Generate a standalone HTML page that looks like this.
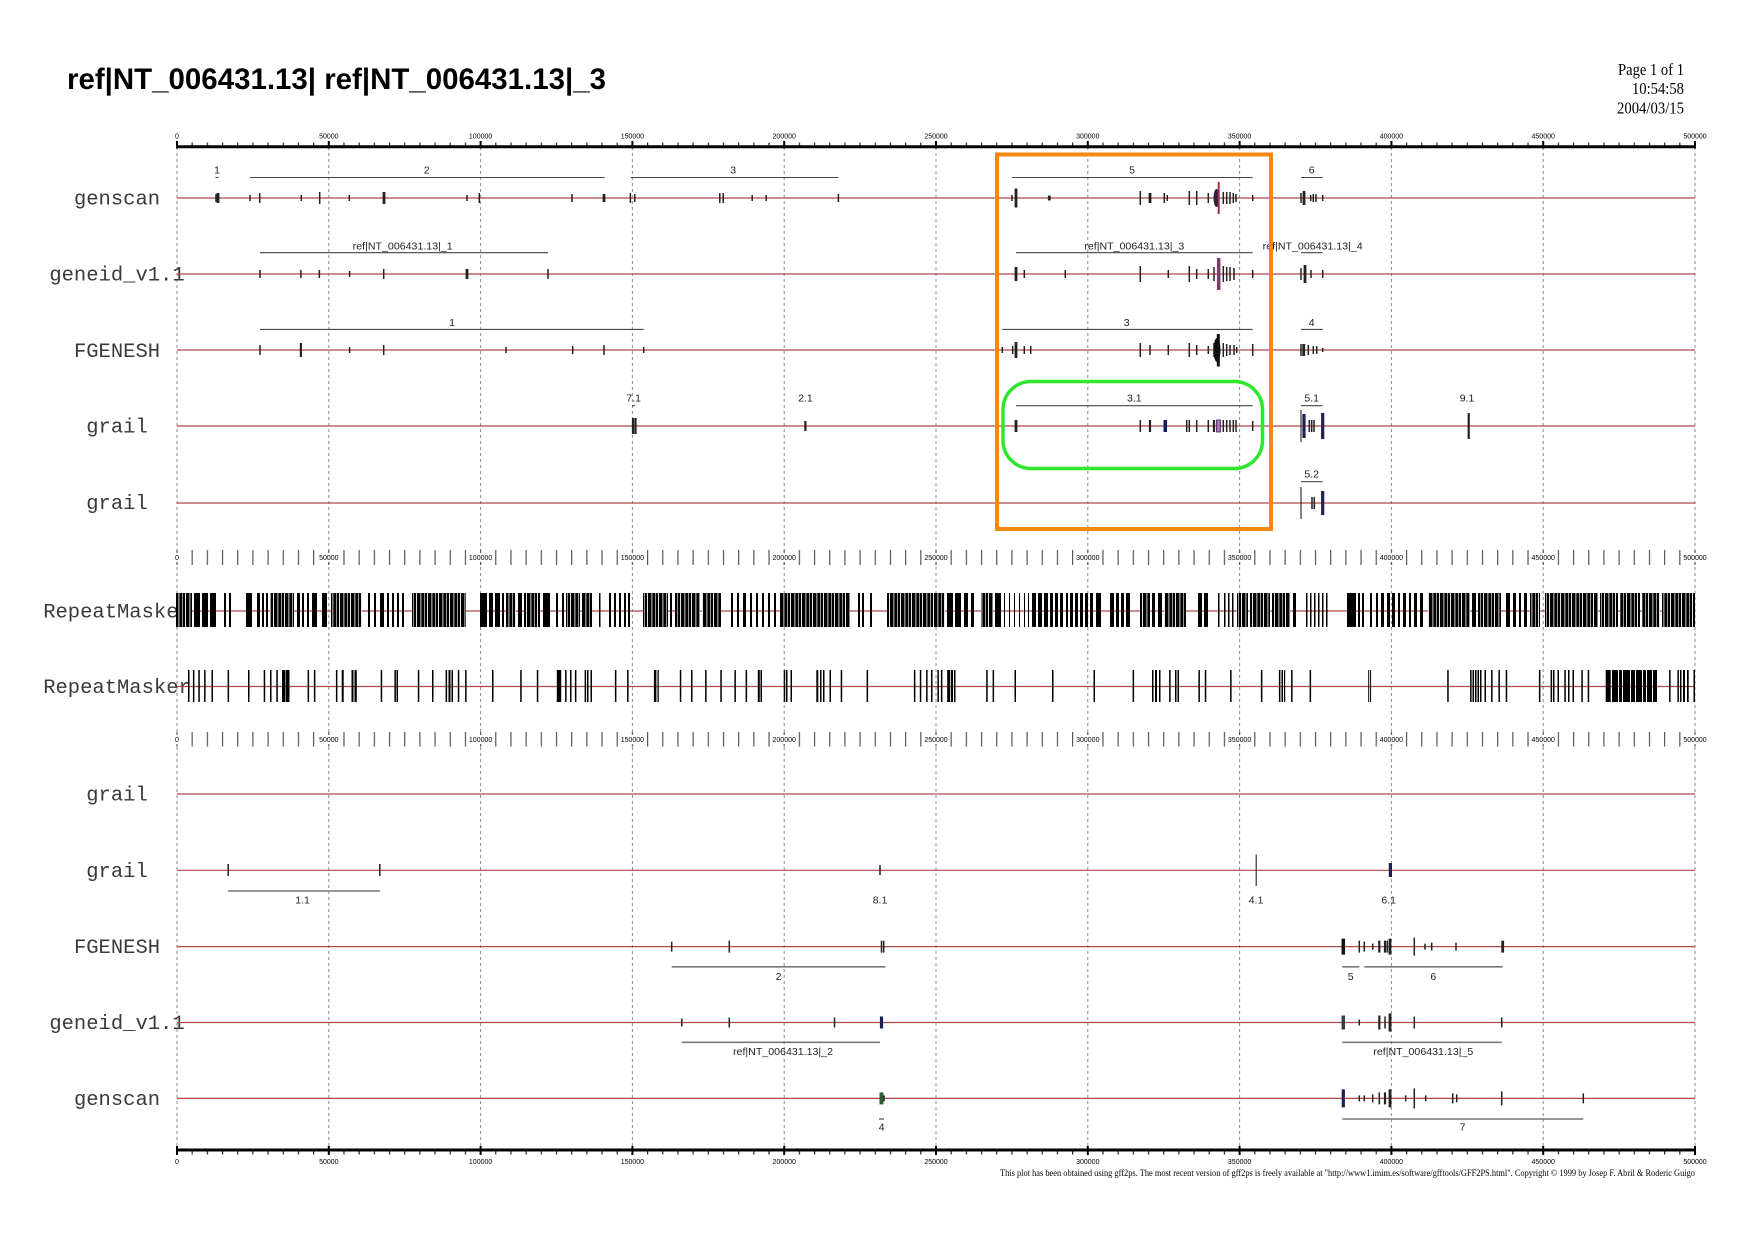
<!DOCTYPE html>
<html><head><meta charset="utf-8"><style>html,body{margin:0;padding:0;background:#fff}svg{display:block}</style></head><body>
<svg xmlns="http://www.w3.org/2000/svg" width="1754" height="1240" viewBox="0 0 1754 1240">
<defs>
<pattern id="tk" x="176.4" y="0" width="15.18" height="1240" patternUnits="userSpaceOnUse"><rect x="0" y="0" width="1.2" height="1240" fill="#222"/></pattern>
<pattern id="rt" x="176.4" y="0" width="15.18" height="1240" patternUnits="userSpaceOnUse"><rect x="0" y="0" width="1.2" height="1240" fill="#555"/></pattern>
<pattern id="rmp" x="0" y="0" width="11" height="1240" patternUnits="userSpaceOnUse"><rect x="0" y="0" width="11" height="1240" fill="#000"/><rect x="2.5" y="0" width="0.8" height="1240" fill="#fff"/><rect x="6" y="0" width="0.6" height="1240" fill="#fff"/><rect x="9" y="0" width="0.9" height="1240" fill="#fff"/></pattern>
</defs>
<rect width="1754" height="1240" fill="#fff"/>

<!-- title & page info -->
<text x="67" y="89" font-family="Liberation Sans, Arial, sans-serif" font-weight="bold" font-size="30" textLength="539" lengthAdjust="spacingAndGlyphs" fill="#000">ref|NT_006431.13| ref|NT_006431.13|_3</text>
<g font-family="Liberation Serif, serif" font-size="17" fill="#000" text-anchor="end">
<text x="1684" y="75" textLength="66" lengthAdjust="spacingAndGlyphs">Page 1 of 1</text>
<text x="1684" y="94" textLength="52" lengthAdjust="spacingAndGlyphs">10:54:58</text>
<text x="1684" y="113.5" textLength="67" lengthAdjust="spacingAndGlyphs">2004/03/15</text>
</g>

<!-- dashed verticals -->
<g stroke="#8a8a8a" stroke-width="1" stroke-dasharray="3,3">
<line x1="177" y1="147" x2="177" y2="1150"/><line x1="328.8" y1="147" x2="328.8" y2="1150"/><line x1="480.6" y1="147" x2="480.6" y2="1150"/><line x1="632.4" y1="147" x2="632.4" y2="1150"/><line x1="784.2" y1="147" x2="784.2" y2="1150"/><line x1="936" y1="147" x2="936" y2="1150"/><line x1="1087.8" y1="147" x2="1087.8" y2="1150"/><line x1="1239.6" y1="147" x2="1239.6" y2="1150"/><line x1="1391.4" y1="147" x2="1391.4" y2="1150"/><line x1="1543.2" y1="147" x2="1543.2" y2="1150"/><line x1="1695" y1="147" x2="1695" y2="1150"/>
</g>

<!-- track labels -->
<g font-family="Liberation Mono, monospace" font-size="20.5" fill="#3a3a3a" text-anchor="middle">
<text x="117" y="204.5">genscan</text>
<text x="117" y="280.5">geneid_v1.1</text>
<text x="117" y="357">FGENESH</text>
<text x="117" y="432.5">grail</text>
<text x="117" y="509">grail</text>
<text x="117" y="617.5">RepeatMasker</text>
<text x="117" y="693">RepeatMasker</text>
<text x="117" y="800.5">grail</text>
<text x="117" y="877">grail</text>
<text x="117" y="953">FGENESH</text>
<text x="117" y="1029">geneid_v1.1</text>
<text x="117" y="1105">genscan</text>
</g>

<!-- track lines -->
<g stroke="#b04848" stroke-width="1.2">
<line x1="177" y1="198" x2="1695" y2="198"/><line x1="177" y1="274" x2="1695" y2="274"/><line x1="177" y1="350" x2="1695" y2="350"/><line x1="177" y1="426" x2="1695" y2="426"/><line x1="177" y1="503" x2="1695" y2="503"/><line x1="177" y1="611" x2="1695" y2="611"/><line x1="177" y1="686.5" x2="1695" y2="686.5"/><line x1="177" y1="794" x2="1695" y2="794"/><line x1="177" y1="870.3" x2="1695" y2="870.3"/><line x1="177" y1="946.6" x2="1695" y2="946.6"/><line x1="177" y1="1022.5" x2="1695" y2="1022.5"/><line x1="177" y1="1098.4" x2="1695" y2="1098.4"/>
</g>

<!-- top axis -->
<rect x="176" y="142.5" width="1520" height="4" fill="url(#tk)"/>
<line x1="176" y1="146.7" x2="1696" y2="146.7" stroke="#000" stroke-width="3"/>
<g stroke="#000" stroke-width="2">
<line x1="177" y1="141" x2="177" y2="148.5"/><line x1="328.8" y1="141" x2="328.8" y2="148.5"/><line x1="480.6" y1="141" x2="480.6" y2="148.5"/><line x1="632.4" y1="141" x2="632.4" y2="148.5"/><line x1="784.2" y1="141" x2="784.2" y2="148.5"/><line x1="936" y1="141" x2="936" y2="148.5"/><line x1="1087.8" y1="141" x2="1087.8" y2="148.5"/><line x1="1239.6" y1="141" x2="1239.6" y2="148.5"/><line x1="1391.4" y1="141" x2="1391.4" y2="148.5"/><line x1="1543.2" y1="141" x2="1543.2" y2="148.5"/><line x1="1695" y1="141" x2="1695" y2="148.5"/>
</g>
<g font-family="Liberation Sans, Arial, sans-serif" font-size="7" fill="#000" text-anchor="middle">
<text x="177" y="138.5">0</text><text x="328.8" y="138.5">50000</text><text x="480.6" y="138.5">100000</text><text x="632.4" y="138.5">150000</text><text x="784.2" y="138.5">200000</text><text x="936" y="138.5">250000</text><text x="1087.8" y="138.5">300000</text><text x="1239.6" y="138.5">350000</text><text x="1391.4" y="138.5">400000</text><text x="1543.2" y="138.5">450000</text><text x="1695" y="138.5">500000</text>
</g>

<!-- bottom axis -->
<rect x="176" y="1150" width="1520" height="4.5" fill="url(#tk)"/>
<line x1="176" y1="1150" x2="1696" y2="1150" stroke="#000" stroke-width="3"/>
<g stroke="#000" stroke-width="2">
<line x1="177" y1="1146" x2="177" y2="1155"/><line x1="328.8" y1="1146" x2="328.8" y2="1155"/><line x1="480.6" y1="1146" x2="480.6" y2="1155"/><line x1="632.4" y1="1146" x2="632.4" y2="1155"/><line x1="784.2" y1="1146" x2="784.2" y2="1155"/><line x1="936" y1="1146" x2="936" y2="1155"/><line x1="1087.8" y1="1146" x2="1087.8" y2="1155"/><line x1="1239.6" y1="1146" x2="1239.6" y2="1155"/><line x1="1391.4" y1="1146" x2="1391.4" y2="1155"/><line x1="1543.2" y1="1146" x2="1543.2" y2="1155"/><line x1="1695" y1="1146" x2="1695" y2="1155"/>
</g>
<g font-family="Liberation Sans, Arial, sans-serif" font-size="7" fill="#000" text-anchor="middle">
<text x="177" y="1164">0</text><text x="328.8" y="1164">50000</text><text x="480.6" y="1164">100000</text><text x="632.4" y="1164">150000</text><text x="784.2" y="1164">200000</text><text x="936" y="1164">250000</text><text x="1087.8" y="1164">300000</text><text x="1239.6" y="1164">350000</text><text x="1391.4" y="1164">400000</text><text x="1543.2" y="1164">450000</text><text x="1695" y="1164">500000</text>
</g>

<!-- rulers -->
<rect x="176" y="550" width="1520" height="15" fill="url(#rt)"/>
<rect x="176" y="732" width="1520" height="14.5" fill="url(#rt)"/>
<g fill="#fff">
<rect x="174" y="553" width="6" height="9"/><rect x="318" y="553" width="22" height="9"/><rect x="468" y="553" width="25" height="9"/><rect x="620" y="553" width="25" height="9"/><rect x="772" y="553" width="25" height="9"/><rect x="924" y="553" width="25" height="9"/><rect x="1075" y="553" width="25" height="9"/><rect x="1227" y="553" width="25" height="9"/><rect x="1379" y="553" width="25" height="9"/><rect x="1531" y="553" width="25" height="9"/><rect x="1683" y="553" width="25" height="9"/>
<rect x="174" y="735" width="6" height="9"/><rect x="318" y="735" width="22" height="9"/><rect x="468" y="735" width="25" height="9"/><rect x="620" y="735" width="25" height="9"/><rect x="772" y="735" width="25" height="9"/><rect x="924" y="735" width="25" height="9"/><rect x="1075" y="735" width="25" height="9"/><rect x="1227" y="735" width="25" height="9"/><rect x="1379" y="735" width="25" height="9"/><rect x="1531" y="735" width="25" height="9"/><rect x="1683" y="735" width="25" height="9"/>
</g>
<g font-family="Liberation Sans, Arial, sans-serif" font-size="7" fill="#000" text-anchor="middle">
<text x="177" y="560">0</text><text x="328.8" y="560">50000</text><text x="480.6" y="560">100000</text><text x="632.4" y="560">150000</text><text x="784.2" y="560">200000</text><text x="936" y="560">250000</text><text x="1087.8" y="560">300000</text><text x="1239.6" y="560">350000</text><text x="1391.4" y="560">400000</text><text x="1543.2" y="560">450000</text><text x="1695" y="560">500000</text>
<text x="177" y="742">0</text><text x="328.8" y="742">50000</text><text x="480.6" y="742">100000</text><text x="632.4" y="742">150000</text><text x="784.2" y="742">200000</text><text x="936" y="742">250000</text><text x="1087.8" y="742">300000</text><text x="1239.6" y="742">350000</text><text x="1391.4" y="742">400000</text><text x="1543.2" y="742">450000</text><text x="1695" y="742">500000</text>
</g>

<!-- RepeatMasker 1 -->
<g fill="#000">
<path d="M194 593h6v34h-6zM202 593h6v34h-6zM210 593h6v34h-6zM224 593h2v34h-2zM229 593h2v34h-2zM246 593h6v34h-6zM257 593h3v34h-3zM262 593h2v34h-2zM266 593h2v34h-2zM297 593h3v34h-3zM302 593h2v34h-2zM307 593h2v34h-2zM312 593h5v34h-5zM322 593h5v34h-5zM368 593h2v34h-2zM374 593h2v34h-2zM380 593h4v34h-4zM387 593h2v34h-2zM392 593h2v34h-2zM397 593h2v34h-2zM402 593h2v34h-2zM480 593h7v34h-7zM489 593h4v34h-4zM495 593h5v34h-5zM502 593h2v34h-2zM518 593h4v34h-4zM543 593h7v34h-7zM556 593h2v34h-2zM562 593h2v34h-2zM599 593h1.5v34h-1.5zM609 593h2v34h-2zM614 593h2v34h-2zM619 593h2v34h-2zM624 593h2v34h-2zM628 593h2v34h-2zM670 593h2v34h-2zM731 593h2v34h-2zM737 593h2v34h-2zM743 593h3v34h-3zM750 593h2v34h-2zM756 593h2v34h-2zM762 593h2v34h-2zM768 593h2v34h-2zM774 593h2v34h-2zM858 593h2v34h-2zM862 593h2v34h-2zM870 593h2v34h-2z"/>
<path d="M947 593h6v34h-6zM955 593h6v34h-6zM964 593h4v34h-4zM971 593h3v34h-3zM995 593h6v34h-6zM1004 593h1v34h-1zM1009 593h1v34h-1zM1014 593h1v34h-1zM1019 593h1v34h-1zM1024 593h1v34h-1zM1028 593h1v34h-1zM1032 593h4v34h-4zM1038 593h4v34h-4zM1044 593h4v34h-4zM1050 593h3v34h-3zM1055 593h3v34h-3zM1060 593h3v34h-3zM1066 593h2v34h-2zM1070 593h3v34h-3zM1075 593h3v34h-3zM1080 593h3v34h-3zM1085 593h3v34h-3zM1090 593h3v34h-3zM1096 593h5v34h-5zM1110 593h4v34h-4zM1116 593h3v34h-3zM1121 593h3v34h-3zM1126 593h4v34h-4zM1152 593h3v34h-3zM1158 593h4v34h-4zM1198 593h4v34h-4zM1204 593h4v34h-4zM1218 593h1.5v34h-1.5zM1224 593h1.5v34h-1.5zM1228 593h1.5v34h-1.5zM1232 593h1.5v34h-1.5zM1293 593h3v34h-3zM1306 593h1.5v34h-1.5zM1310 593h1.5v34h-1.5zM1314 593h1.5v34h-1.5zM1318 593h1.5v34h-1.5zM1322 593h1.5v34h-1.5zM1326 593h1.5v34h-1.5zM1347 593h9v34h-9zM1358 593h2v34h-2zM1362 593h2v34h-2zM1370 593h2v34h-2zM1376 593h2v34h-2zM1381 593h3v34h-3zM1387 593h3v34h-3zM1392 593h3v34h-3zM1398 593h2v34h-2zM1403 593h3v34h-3zM1409 593h2v34h-2zM1414 593h3v34h-3zM1420 593h3v34h-3zM1472 593h4v34h-4zM1506 593h4v34h-4zM1513 593h3v34h-3zM1519 593h2v34h-2zM1524 593h3v34h-3z"/>
</g>
<path fill="url(#rmp)" d="M176 593h16v34h-16zM270 593h24v34h-24zM331 593h31v34h-31zM412 593h54v34h-54zM506 593h10v34h-10zM524 593h16v34h-16zM566 593h14v34h-14zM582 593h10v34h-10zM643 593h25v34h-25zM675 593h25v34h-25zM702 593h19v34h-19zM780 593h70v34h-70zM887 593h48v34h-48zM935 593h10v34h-10zM981 593h12v34h-12zM1140 593h10v34h-10zM1164 593h22v34h-22zM1237 593h11v34h-11zM1250 593h20v34h-20zM1272 593h18v34h-18zM1428 593h42v34h-42zM1478 593h23v34h-23zM1530 593h10v34h-10zM1545 593h53v34h-53zM1600 593h18v34h-18zM1620 593h20v34h-20zM1642 593h18v34h-18zM1662 593h33v34h-33z"/>

<!-- RepeatMasker 2 -->
<g fill="#000">
<path d="M188 670h1.5v32h-1.5zM192.9 670h1.5v32h-1.5zM198.3 670h1.5v32h-1.5zM204.1 670h1.5v32h-1.5zM211.5 670h1.5v32h-1.5zM227.6 670h1.5v32h-1.5zM248 670h1.5v32h-1.5zM263.7 670h1.5v32h-1.5zM270 670h1.5v32h-1.5zM276.3 670h1.5v32h-1.5zM282 670h3v32h-3zM285.5 670h4v32h-4zM307.6 670h1.5v32h-1.5zM313.9 670h1.5v32h-1.5zM335.9 670h1.5v32h-1.5zM341.7 670h2v32h-2zM351.5 670h2v32h-2zM354.5 670h2.3v32h-2.3zM380.7 670h1.5v32h-1.5zM394.4 670h1.5v32h-1.5zM396.5 670h1.5v32h-1.5zM417.8 670h1.5v32h-1.5zM432 670h1.5v32h-1.5zM445.6 670h1.5v32h-1.5zM448.5 670h2v32h-2zM451.5 670h1.5v32h-1.5zM457.8 670h1.5v32h-1.5zM465.1 670h1.5v32h-1.5zM492 670h1.5v32h-1.5zM520.2 670h1.5v32h-1.5zM536.8 670h1.5v32h-1.5zM556.8 670h4.4v32h-4.4zM565.1 670h1.5v32h-1.5zM570 670h1.5v32h-1.5zM574.9 670h1.5v32h-1.5zM584.6 670h1.5v32h-1.5zM587 670h1.5v32h-1.5zM590.5 670h1.5v32h-1.5zM614.9 670h1.5v32h-1.5zM627.1 670h1.5v32h-1.5zM653.9 670h2.5v32h-2.5zM657.5 670h1.3v32h-1.3zM679.8 670h1.5v32h-1.5zM691 670h1.5v32h-1.5zM705.1 670h1.5v32h-1.5zM720.3 670h1.5v32h-1.5zM734.4 670h1.5v32h-1.5zM745.6 670h1.5v32h-1.5zM757.8 670h2v32h-2zM760.5 670h1.5v32h-1.5zM783.7 670h1.5v32h-1.5zM786 670h1.5v32h-1.5zM790.5 670h1.5v32h-1.5zM816.3 670h2v32h-2zM820 670h1.5v32h-1.5zM823 670h1.5v32h-1.5zM829.5 670h1.5v32h-1.5zM840.7 670h1.5v32h-1.5zM866.6 670h1.5v32h-1.5zM913.9 670h1.5v32h-1.5zM919.8 670h1.5v32h-1.5zM926.1 670h1.5v32h-1.5zM931 670h1.5v32h-1.5z"/>
<path d="M937.4 670h1.5v32h-1.5zM940.9 670h1.5v32h-1.5zM947.2 670h3v32h-3zM951 670h2v32h-2zM954 670h1.5v32h-1.5zM986.2 670h1.5v32h-1.5zM992.6 670h1.5v32h-1.5zM1014.5 670h1.5v32h-1.5zM1052 670h1.5v32h-1.5zM1093.5 670h1.5v32h-1.5zM1132.6 670h1.5v32h-1.5zM1152 670h1.5v32h-1.5zM1155 670h2v32h-2zM1159 670h1.5v32h-1.5zM1169.1 670h1.5v32h-1.5zM1175 670h1.5v32h-1.5zM1177.5 670h1.5v32h-1.5zM1198.4 670h1.5v32h-1.5zM1204.8 670h1.5v32h-1.5zM1230.1 670h1.5v32h-1.5zM1260.9 670h1.5v32h-1.5zM1278.9 670h1.5v32h-1.5zM1281.5 670h1.5v32h-1.5zM1284 670h1.2v32h-1.2zM1291.1 670h1.5v32h-1.5zM1309.6 670h1.5v32h-1.5zM1368.2 670h1v32h-1zM1370.1 670h1v32h-1zM1447.2 670h1.5v32h-1.5zM1470.1 670h1.5v32h-1.5zM1472.5 670h1.5v32h-1.5zM1475 670h1.5v32h-1.5zM1477.5 670h1.5v32h-1.5zM1480 670h1.5v32h-1.5zM1484.5 670h1.5v32h-1.5zM1491.1 670h1.5v32h-1.5zM1498.4 670h1.5v32h-1.5zM1505.7 670h1.5v32h-1.5zM1538.9 670h1.5v32h-1.5zM1550.6 670h1.5v32h-1.5zM1553 670h1.5v32h-1.5zM1557.5 670h1.5v32h-1.5zM1564.3 670h1.5v32h-1.5zM1568 670h1.5v32h-1.5zM1572.5 670h1.5v32h-1.5zM1581.3 670h1.5v32h-1.5zM1587.7 670h1.5v32h-1.5zM1605.7 670h5v32h-5zM1612 670h6v32h-6zM1619 670h3v32h-3zM1623 670h7v32h-7zM1631 670h4v32h-4zM1636 670h6v32h-6zM1643 670h3v32h-3zM1647 670h5v32h-5zM1653 670h4v32h-4zM1669.1 670h1.5v32h-1.5zM1677.4 670h1.5v32h-1.5zM1680 670h1.5v32h-1.5zM1683 670h2v32h-2zM1687 670h1.7v32h-1.7zM1693.5 670h1.5v32h-1.5z"/>
</g>

<!-- gene span lines -->
<g stroke="#444" stroke-width="1.1">
<line x1="215.5" y1="177.5" x2="218.5" y2="177.5"/><line x1="250" y1="177.5" x2="604.6" y2="177.5"/><line x1="630.9" y1="177.5" x2="838.4" y2="177.5"/><line x1="1012" y1="177.5" x2="1252.7" y2="177.5"/><line x1="1301" y1="177.5" x2="1322.7" y2="177.5"/>
<line x1="260" y1="252.7" x2="548" y2="252.7"/><line x1="1016" y1="252.7" x2="1252.7" y2="252.7"/><line x1="1301" y1="252.7" x2="1322.7" y2="252.7"/>
<line x1="260" y1="329.4" x2="643.7" y2="329.4"/><line x1="1002.3" y1="329.4" x2="1252.7" y2="329.4"/><line x1="1301" y1="329.4" x2="1322.7" y2="329.4"/>
<line x1="1016" y1="405.7" x2="1252.7" y2="405.7"/><line x1="1301" y1="405.7" x2="1322.7" y2="405.7"/><line x1="632" y1="405.7" x2="635" y2="405.7"/>
<line x1="1301" y1="481.7" x2="1322.7" y2="481.7"/>
</g>
<g stroke="#777" stroke-width="1.6">
<line x1="228" y1="891" x2="380" y2="891"/>
<line x1="671.7" y1="966.8" x2="885.4" y2="966.8"/><line x1="1342.3" y1="966.8" x2="1359.3" y2="966.8"/><line x1="1364.3" y1="966.8" x2="1502.7" y2="966.8"/>
<line x1="681.8" y1="1042.3" x2="880" y2="1042.3"/><line x1="1342.3" y1="1042.3" x2="1501.7" y2="1042.3"/>
<line x1="879" y1="1119" x2="884" y2="1119"/><line x1="1342.3" y1="1119" x2="1583.3" y2="1119"/>
</g>

<!-- gene labels -->
<g font-family="Liberation Sans, Arial, sans-serif" font-size="10.5" fill="#222" text-anchor="middle">
<text x="217" y="173.5">1</text><text x="426.7" y="173.5">2</text><text x="733.2" y="173.5">3</text><text x="1132" y="173.5">5</text><text x="1311.7" y="173.5">6</text>
<text x="402.7" y="249.5" textLength="100" lengthAdjust="spacingAndGlyphs">ref|NT_006431.13|_1</text>
<text x="1134.3" y="249.5" textLength="100" lengthAdjust="spacingAndGlyphs">ref|NT_006431.13|_3</text>
<text x="1312.7" y="249.5" textLength="100" lengthAdjust="spacingAndGlyphs">ref|NT_006431.13|_4</text>
<text x="452" y="326">1</text><text x="1126.7" y="326">3</text><text x="1311.7" y="326">4</text>
<text x="633.7" y="401.5">7.1</text><text x="805.4" y="401.5">2.1</text><text x="1134.3" y="401.5">3.1</text><text x="1311.7" y="401.5">5.1</text><text x="1467" y="401.5">9.1</text>
<text x="1311.7" y="477.5">5.2</text>
<text x="302.6" y="903.5">1.1</text><text x="880" y="903.5">8.1</text><text x="1256" y="903.5">4.1</text><text x="1388.7" y="903.5">6.1</text>
<text x="778.5" y="980">2</text><text x="1350.7" y="980">5</text><text x="1433.3" y="980">6</text>
<text x="783" y="1055" textLength="100" lengthAdjust="spacingAndGlyphs">ref|NT_006431.13|_2</text>
<text x="1423.3" y="1055" textLength="100" lengthAdjust="spacingAndGlyphs">ref|NT_006431.13|_5</text>
<text x="881.7" y="1130.5">4</text><text x="1462.6" y="1130.5">7</text>
</g>

<!-- exons: thin -->
<path fill="none" stroke="#222" stroke-width="1.5" d="
M216 194V202M250 195V201M259.7 193V203M301.3 195V201M319.7 192V204M349.3 195V201M467 195V201M479.3 193V203M572 194V202M630.4 193V203M634.8 194V202M719.8 193V203M723.2 193V203M752.2 195V201M766.2 195V201M838.4 194V202M1012 195V201M1140.3 191V205M1164.3 193V203M1167.3 195V201M1189.3 191V205M1196.7 191V205M1208.3 193V203M1223.3 192V204M1226.7 192V204M1230 192V204M1233.3 193V203M1236 194V202M1252.7 195V201M1301 193V203M1310.7 195V201M1313.3 194V202M1316 194V202M1322.7 195V201
M260 270V278M300.9 270V278M319.4 270V278M349.6 271V277M383.7 269V279M548 269V279M1024.3 270V278M1065.3 270V278M1140.3 266V282M1168.3 270V278M1189.3 266V282M1196.7 269V279M1208.3 269V279M1214 267V281M1223.3 266V282M1226.7 267V281M1230 267V281M1234 268V280M1252.7 270V278M1301 268V280M1311 270V278M1322.7 270V278
M260 345V355M349.6 347V353M383.7 345V355M506 347V353M572.7 346V354M604 345V355M643.7 347V353M1002.3 347V353M1012.7 346V354M1024.3 346V354M1030.7 346V354M1140.3 343V357M1150 345V355M1168.3 345V355M1189.3 343V357M1196.7 345V355M1208.3 346V354M1214 343V357M1223.3 343V357M1226.7 344V356M1230 345V355M1234 345V355M1236.7 347V353M1252.7 344V356M1301 344V356M1308.3 345V355M1313.3 346V354M1316.7 346V354M1322.7 348V352
M1140.3 420V432M1186.7 420V432M1189.3 420V432M1196.7 420V432M1208.3 420V432M1223.3 420V432M1226.7 420V432M1230 420V432M1233.3 420V432M1236 420V432M1252.7 421V431M1309.3 420V432M1311.7 420V432M1314 420V432
M1312 497V509M1314.3 497V509
M228.2 864V876M379.8 864V876M880 865V875
M671.7 941.6V951.6M729.3 940.6V952.6M881.5 940.6V952.6M883.7 940.6V952.6M1359.3 940.6V952.6M1364.3 941.6V951.6M1372.7 943.6V949.6M1387.3 940.6V952.6M1414.3 937.6V955.6M1425 943.6V949.6M1431.7 942.6V950.6M1456 942.6V950.6
M681.8 1018.5V1026.5M729.3 1017.5V1027.5M834.5 1017.5V1027.5M1359.3 1019.5V1025.5M1385 1016.5V1028.5M1414.3 1016.5V1028.5M1501.7 1017.5V1027.5
M884 1095.4V1101.4M1359.3 1095.4V1101.4M1364.3 1095.4V1101.4M1372.7 1094.4V1102.4M1379.3 1092.4V1104.4M1405.7 1095.4V1101.4M1414.3 1088.4V1108.4M1425.7 1095.4V1101.4M1452.7 1093.4V1103.4M1456.7 1094.4V1102.4M1501.7 1091.4V1105.4M1583.3 1093.4V1103.4"/>
<path fill="none" stroke="#222" stroke-width="1.1" d="M1301 410V442M1301 487V519M1256.2 854.5V886"/>
<!-- exons: medium -->
<path fill="none" stroke="#222" stroke-width="2.2" d="M300.9 343V357M633 418V434M635.5 418V434M1150 420V432M1214 420V432M805.4 421V431M1468.7 413V439M1379.3 940.6V952.6M1385 940.6V952.6M1379.3 1015.5V1029.5M1385 1092.4V1104.4"/>
<!-- exons: thick -->
<path fill="none" stroke="#222" stroke-width="2.8" d="M218 193V203M384 192V204M604 194V202M1016 188.5V207.5M1150 193V203M1304 191V205M1049.3 195.5V200.5M467 269V279M1016 267V281M1305 265V283M1016 342V358M1303.7 344V356M1016 420V432M1390 938.6V954.6M1502.7 940.6V952.6M1390 1013.5V1031.5M1390 1089.4V1107.4"/>
<path fill="none" stroke="#1e2050" stroke-width="3.2" d="M1304 414V438M1322.7 413V439M1322.7 491V515M1390.4 863V877M881.5 1016.5V1028.5M1343.3 1089.4V1107.4"/>
<path fill="none" stroke="#111" stroke-width="3.5" d="M1343.3 938.6V954.6"/>
<path fill="none" stroke="#334050" stroke-width="3.5" d="M1343.3 1015.5V1029.5"/>
<path fill="none" stroke="#2f5a34" stroke-width="4" d="M881.5 1092.4V1104.4"/>
<rect x="1163.5" y="420" width="3.5" height="12" fill="#1a1a5a"/>
<rect x="1216.5" y="420" width="4" height="12" fill="#b070c0" stroke="#402050" stroke-width="0.8"/>
<!-- clusters -->
<ellipse cx="1216.5" cy="198" rx="3" ry="9" fill="#302040"/>
<line x1="1218.7" y1="182" x2="1218.7" y2="214" stroke="#a03040" stroke-width="2"/>
<line x1="1218.7" y1="258" x2="1218.7" y2="290" stroke="#7a3a6a" stroke-width="3.5"/>
<ellipse cx="1217" cy="350" rx="3.5" ry="12" fill="#111"/>
<line x1="1218.3" y1="334" x2="1218.3" y2="366.5" stroke="#111" stroke-width="3"/>

<!-- highlights -->
<rect x="997" y="154.5" width="274" height="374.5" fill="none" stroke="#f5880f" stroke-width="4"/>
<rect x="1003" y="381.5" width="259.5" height="87" rx="28" ry="28" fill="none" stroke="#2de82d" stroke-width="3.5"/>

<!-- footer -->
<text x="1695" y="1176" text-anchor="end" font-family="Liberation Serif, serif" font-size="9" fill="#000" textLength="695" lengthAdjust="spacingAndGlyphs">This plot has been obtained using gff2ps. The most recent version of gff2ps is freely available at "http://www1.imim.es/software/gfftools/GFF2PS.html". Copyright © 1999 by Josep F. Abril &amp; Roderic Guigo</text>
</svg>
</body></html>
